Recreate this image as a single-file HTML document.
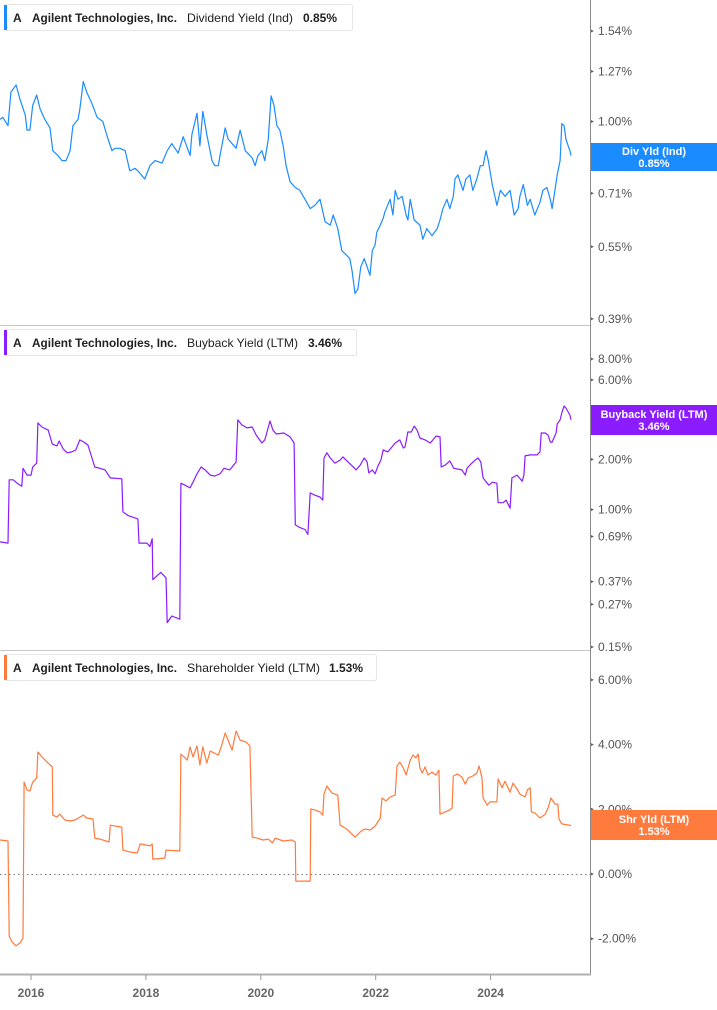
<!DOCTYPE html>
<html><head><meta charset="utf-8">
<style>
html,body{margin:0;padding:0;background:#fff;}
body{width:717px;height:1005px;overflow:hidden;font-family:"Liberation Sans",sans-serif;}
svg text{font-family:"Liberation Sans",sans-serif;}
</style></head>
<body>
<svg id="chart" width="717" height="1005" xmlns="http://www.w3.org/2000/svg"></svg>
<script>
const yearTicks=[2016,2018,2020,2022,2024];
const divTicks=["1.54","1.27","1.00","0.71","0.55","0.39"];
const bbTicks=["8.00","6.00","2.00","1.00","0.69","0.37","0.27","0.15"];
const shTicks=["6.00","4.00","2.00","0.00","-2.00"];
const divDates=[2015.46,2015.51,2015.60,2015.65,2015.74,2015.81,2015.90,2015.93,2015.98,2016.03,2016.10,2016.16,2016.24,2016.33,2016.38,2016.47,2016.54,2016.61,2016.68,2016.73,2016.82,2016.85,2016.91,2016.97,2017.06,2017.15,2017.25,2017.34,2017.41,2017.46,2017.55,2017.64,2017.72,2017.81,2017.86,2017.98,2018.07,2018.16,2018.28,2018.37,2018.45,2018.56,2018.65,2018.77,2018.80,2018.89,2018.94,2018.99,2019.06,2019.15,2019.20,2019.26,2019.29,2019.38,2019.43,2019.57,2019.64,2019.73,2019.85,2019.90,2019.95,2020.02,2020.07,2020.13,2020.18,2020.23,2020.28,2020.33,2020.39,2020.44,2020.51,2020.60,2020.68,2020.77,2020.86,2020.94,2021.03,2021.12,2021.21,2021.26,2021.34,2021.41,2021.48,2021.55,2021.59,2021.64,2021.69,2021.74,2021.80,2021.85,2021.90,2021.94,2021.99,2022.02,2022.08,2022.13,2022.16,2022.25,2022.30,2022.34,2022.39,2022.46,2022.53,2022.56,2022.60,2022.67,2022.77,2022.82,2022.89,2022.98,2023.07,2023.12,2023.17,2023.24,2023.29,2023.35,2023.38,2023.43,2023.52,2023.57,2023.64,2023.69,2023.76,2023.82,2023.87,2023.92,2023.96,2024.03,2024.11,2024.17,2024.25,2024.34,2024.41,2024.48,2024.51,2024.57,2024.64,2024.69,2024.77,2024.86,2024.91,2024.98,2025.04,2025.07,2025.12,2025.16,2025.21,2025.24,2025.28,2025.31,2025.35,2025.38,2025.40];
const divValues=[1.01,1.02,0.98,1.15,1.19,1.11,1.03,0.96,0.96,1.08,1.135,1.06,1.01,0.97,0.87,0.85,0.83,0.83,0.87,0.98,1.01,1.06,1.21,1.15,1.09,1.02,1.00,0.92,0.87,0.88,0.88,0.87,0.79,0.80,0.79,0.76,0.81,0.83,0.82,0.87,0.90,0.86,0.93,0.85,0.94,1.04,0.89,1.05,0.94,0.83,0.81,0.81,0.85,0.97,0.92,0.88,0.96,0.87,0.84,0.81,0.85,0.87,0.83,0.92,1.13,1.08,0.98,0.96,0.89,0.81,0.75,0.73,0.72,0.69,0.66,0.67,0.69,0.62,0.61,0.64,0.60,0.54,0.53,0.52,0.49,0.44,0.45,0.50,0.52,0.50,0.48,0.54,0.555,0.59,0.61,0.63,0.65,0.69,0.64,0.72,0.69,0.70,0.64,0.625,0.69,0.625,0.61,0.57,0.60,0.58,0.60,0.625,0.66,0.69,0.66,0.70,0.76,0.775,0.72,0.76,0.775,0.72,0.76,0.81,0.81,0.87,0.83,0.74,0.67,0.72,0.70,0.72,0.64,0.66,0.70,0.74,0.67,0.69,0.64,0.68,0.72,0.73,0.69,0.66,0.72,0.775,0.83,0.99,0.98,0.92,0.89,0.87,0.85];
const bbDates=[2015.46,2015.60,2015.62,2015.69,2015.76,2015.84,2015.86,2015.93,2016.00,2016.03,2016.10,2016.12,2016.19,2016.30,2016.37,2016.45,2016.49,2016.56,2016.63,2016.71,2016.78,2016.85,2016.92,2016.99,2017.11,2017.20,2017.29,2017.38,2017.58,2017.60,2017.69,2017.86,2017.88,2018.02,2018.07,2018.11,2018.12,2018.19,2018.26,2018.35,2018.37,2018.45,2018.59,2018.61,2018.68,2018.77,2018.82,2018.89,2018.96,2019.03,2019.12,2019.20,2019.29,2019.36,2019.46,2019.57,2019.60,2019.67,2019.76,2019.85,2019.92,2020.02,2020.07,2020.16,2020.21,2020.27,2020.40,2020.51,2020.58,2020.60,2020.68,2020.77,2020.82,2020.86,2020.94,2021.03,2021.08,2021.10,2021.15,2021.21,2021.29,2021.38,2021.43,2021.50,2021.59,2021.66,2021.73,2021.80,2021.85,2021.88,2021.94,2021.99,2022.04,2022.09,2022.13,2022.21,2022.28,2022.34,2022.42,2022.48,2022.51,2022.56,2022.62,2022.67,2022.72,2022.77,2022.86,2022.95,2023.05,2023.12,2023.14,2023.21,2023.29,2023.36,2023.50,2023.56,2023.59,2023.64,2023.73,2023.78,2023.83,2023.87,2023.94,2023.97,2024.03,2024.11,2024.13,2024.22,2024.27,2024.34,2024.37,2024.46,2024.55,2024.58,2024.60,2024.69,2024.81,2024.86,2024.88,2024.95,2025.00,2025.04,2025.07,2025.14,2025.16,2025.21,2025.24,2025.28,2025.31,2025.35,2025.38,2025.40];
const bbValues=[0.64,0.63,1.51,1.51,1.44,1.38,1.77,1.61,1.61,1.80,1.90,3.31,3.13,3.00,2.47,2.41,2.58,2.31,2.19,2.22,2.28,2.62,2.54,2.44,1.80,1.77,1.73,1.55,1.53,0.97,0.92,0.88,0.63,0.63,0.60,0.67,0.38,0.40,0.42,0.39,0.21,0.23,0.22,1.44,1.40,1.35,1.46,1.64,1.80,1.73,1.61,1.59,1.64,1.77,1.73,1.93,3.45,3.22,3.09,3.13,2.80,2.51,2.62,3.40,3.00,2.84,2.88,2.73,2.51,0.81,0.78,0.76,0.71,1.26,1.22,1.19,1.14,2.04,2.19,2.04,1.90,1.98,2.07,1.96,1.83,1.73,1.85,2.04,1.93,1.66,1.73,1.64,1.83,1.98,2.28,2.22,2.37,2.51,2.62,2.34,2.37,2.92,2.92,3.17,3.00,2.69,2.62,2.51,2.76,2.73,1.80,1.85,1.96,1.77,1.73,1.61,1.77,1.85,1.98,2.04,1.93,1.55,1.44,1.40,1.46,1.44,1.10,1.10,1.14,1.02,1.55,1.61,1.48,1.61,2.10,2.13,2.13,2.22,2.88,2.88,2.80,2.54,2.54,2.88,3.26,3.45,3.80,4.18,4.07,3.85,3.69,3.46];
const shDates=[2015.46,2015.60,2015.62,2015.67,2015.74,2015.81,2015.86,2015.88,2015.93,2015.98,2016.03,2016.10,2016.12,2016.19,2016.28,2016.37,2016.38,2016.45,2016.50,2016.59,2016.68,2016.77,2016.85,2016.91,2016.97,2017.08,2017.11,2017.20,2017.36,2017.38,2017.58,2017.60,2017.72,2017.85,2017.90,2018.07,2018.11,2018.12,2018.33,2018.35,2018.59,2018.61,2018.72,2018.77,2018.82,2018.89,2018.94,2018.99,2019.06,2019.12,2019.26,2019.31,2019.38,2019.43,2019.50,2019.57,2019.64,2019.74,2019.81,2019.85,2019.93,2020.04,2020.13,2020.20,2020.25,2020.39,2020.54,2020.60,2020.61,2020.86,2020.87,2020.94,2021.03,2021.08,2021.10,2021.15,2021.24,2021.34,2021.38,2021.47,2021.55,2021.64,2021.73,2021.81,2021.90,2021.99,2022.08,2022.11,2022.18,2022.25,2022.34,2022.37,2022.42,2022.48,2022.53,2022.60,2022.65,2022.70,2022.74,2022.77,2022.81,2022.86,2022.91,2022.98,2023.05,2023.10,2023.12,2023.29,2023.33,2023.35,2023.42,2023.50,2023.56,2023.61,2023.69,2023.76,2023.80,2023.85,2023.87,2023.94,2023.99,2024.11,2024.13,2024.20,2024.25,2024.34,2024.39,2024.46,2024.51,2024.60,2024.64,2024.69,2024.71,2024.77,2024.86,2024.95,2025.00,2025.05,2025.12,2025.17,2025.19,2025.24,2025.40];
const shValues=[1.05,1.02,-1.92,-2.10,-2.22,-2.13,-1.98,2.84,2.60,2.57,2.84,2.97,3.77,3.62,3.46,3.31,1.82,1.76,1.85,1.67,1.64,1.67,1.76,1.82,1.73,1.70,1.11,1.08,0.99,1.51,1.45,0.74,0.68,0.65,0.93,0.87,0.93,0.46,0.49,0.74,0.71,3.71,3.52,3.93,3.62,3.96,3.37,3.93,3.43,3.80,3.68,3.93,4.36,4.14,3.83,4.42,4.14,4.08,3.96,1.14,1.11,1.05,1.08,0.96,1.11,1.02,1.05,0.99,-0.22,-0.22,2.01,1.98,1.92,1.82,2.47,2.72,2.50,2.44,1.51,1.42,1.30,1.14,1.30,1.39,1.36,1.48,1.73,2.35,2.26,2.38,2.44,3.34,3.46,3.28,3.06,3.52,3.68,3.59,3.71,3.28,3.12,3.31,3.06,3.15,3.06,3.21,1.85,1.98,2.04,3.03,3.09,3.00,2.78,2.97,3.03,3.12,3.34,2.97,2.35,2.13,2.23,2.23,2.94,2.66,2.87,2.53,2.81,2.63,2.47,2.38,2.60,2.66,1.92,1.89,1.73,1.85,2.04,2.35,2.16,2.16,1.70,1.55,1.50];

const svg=document.getElementById('chart');
const NS='http://www.w3.org/2000/svg';
function mk(tag,attrs,parent){const e=document.createElementNS(NS,tag);for(const k in attrs)e.setAttribute(k,attrs[k]);(parent||svg).appendChild(e);return e;}
function xS(t){return 31+(t-2016)*57.45;}
function yDiv(v){return 121.5-209.6*Math.log(v);}
function yBb(v){return 509.6-72.4*Math.log(v);}
function ySh(v){return 874-32.35*v;}

let e;
e=mk('line',{x1:0,y1:325.5,x2:590,y2:325.5,stroke:'#c8c8c8','stroke-width':1});


e=mk('line',{x1:0,y1:650.5,x2:590,y2:650.5,stroke:'#c8c8c8','stroke-width':1});


e=mk('line',{x1:590.5,y1:0,x2:590.5,y2:975,stroke:'#8a8a8a','stroke-width':1});


e=mk('line',{x1:0,y1:974.5,x2:591,y2:974.5,stroke:'#b0b0b0','stroke-width':2});


e=mk('line',{x1:0,y1:874.5,x2:590,y2:874.5,stroke:'#777','stroke-width':1,'stroke-dasharray':'1.5,3'});



yearTicks.forEach(yr=>{
  const x=xS(yr);
  const t=mk('line',{x1:x,y1:975,x2:x,y2:980,stroke:'#999'});
  
  
  const l=mk('text',{x:x,y:997,'text-anchor':'middle','font-size':'12','font-weight':'bold',fill:'#666'});
  l.textContent=String(yr);
  
  
});

function ticks(arr,yf,name){
  arr.forEach(s=>{
    const y=yf(parseFloat(s));
    const m=mk('path',{d:`M591 ${y-1.5}L594 ${y}L591 ${y+1.5}Z`,fill:'#666'});
    
    
    const l=mk('text',{x:598,y:y+4,'font-size':'12',fill:'#555'});
    l.textContent=s+'%';
    
    
  });
}
ticks(divTicks,yDiv,'div-axis');
ticks(bbTicks,yBb,'buyback-axis');
ticks(shTicks,ySh,'shareholder-axis');

function line(dates,vals,yf,color,name){
  let d='';
  dates.forEach((t,i)=>{d+=(i?'L':'M')+xS(t).toFixed(1)+' '+yf(vals[i]).toFixed(1);});
  const p=mk('path',{d:d,fill:'none',stroke:color,'stroke-width':1.2,'stroke-linejoin':'round'});
  
  
}
line(divDates,divValues,yDiv,'#1a8cff','dividend-yield-line');
line(bbDates,bbValues,yBb,'#8a1cff','buyback-yield-line');
line(shDates,shValues,ySh,'#ff7a3d','shareholder-yield-line');

function badge(y,h,color,l1,l2,name){
  const g=mk('g',{});
  
  
  mk('rect',{x:591,y:y,width:126,height:h,fill:color},g);
  const a=mk('text',{x:654,y:y+h/2-2,'text-anchor':'middle','font-size':'11','font-weight':'bold',fill:'#fff'},g);a.textContent=l1;
  const b=mk('text',{x:654,y:y+h/2+10,'text-anchor':'middle','font-size':'11','font-weight':'bold',fill:'#fff'},g);b.textContent=l2;
}
badge(143,28,'#1a8cff','Div Yld (Ind)','0.85%','div-value-badge');
badge(405,30,'#8a1cff','Buyback Yield (LTM)','3.46%','buyback-value-badge');
badge(810,30,'#ff7a3d','Shr Yld (LTM)','1.53%','shareholder-value-badge');

function legend(y,w,color,metric,metricLen,val,valX,name){
  const g=mk('g',{});
  
  
  mk('rect',{x:4.5,y:y+0.5,width:w,height:26,rx:2,fill:'#fff',stroke:'#e6e6e6'},g);
  mk('rect',{x:4,y:y+1,width:3,height:25,fill:color},g);
  const base={y:y+18,'font-size':'12',fill:'#222'};
  const a=mk('text',Object.assign({x:13,'font-weight':'bold'},base),g);a.textContent='A';
  const b=mk('text',Object.assign({x:32,'font-weight':'bold',textLength:145,lengthAdjust:'spacingAndGlyphs'},base),g);b.textContent='Agilent Technologies, Inc.';
  const c=mk('text',Object.assign({x:187,textLength:metricLen,lengthAdjust:'spacingAndGlyphs'},base),g);c.textContent=metric;
  const d=mk('text',Object.assign({x:valX,'font-weight':'bold'},base),g);d.textContent=val;
}
legend(4,348,'#1a8cff','Dividend Yield (Ind)',106,'0.85%',303,'legend-dividend-yield');
legend(329,352,'#8a1cff','Buyback Yield (LTM)',111,'3.46%',308,'legend-buyback-yield');
legend(654,372,'#ff7a3d','Shareholder Yield (LTM)',133,'1.53%',329,'legend-shareholder-yield');
</script>
</body></html>
